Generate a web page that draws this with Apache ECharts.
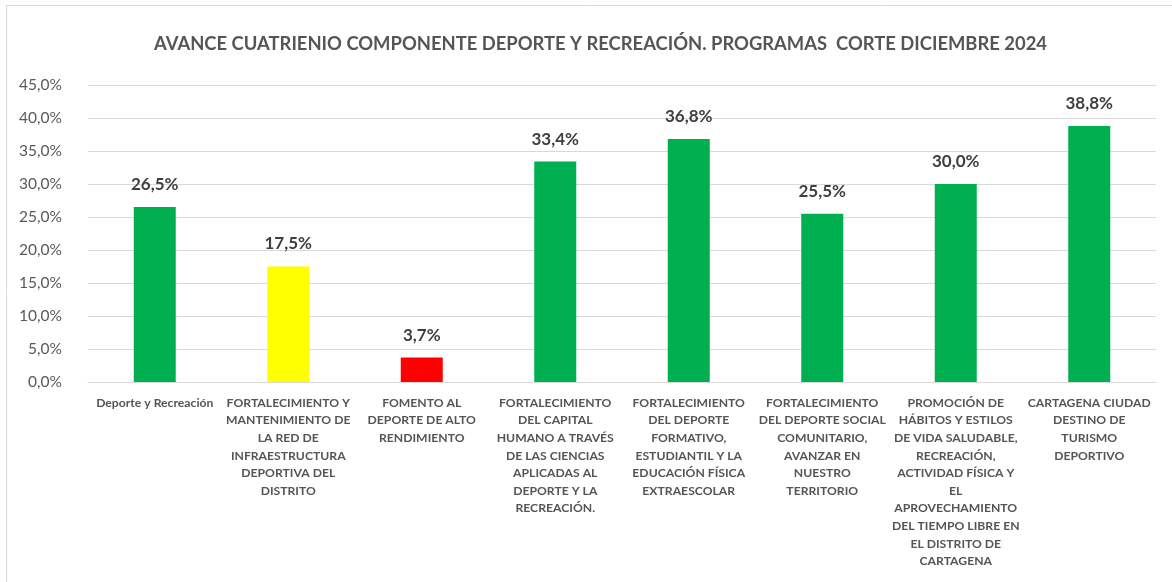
<!DOCTYPE html>
<html>
<head>
<meta charset="utf-8">
<script src="https://cdn.jsdelivr.net/npm/echarts@6/dist/echarts.min.js"></script>
<style>
  html, body { margin: 0; padding: 0; background: #fff; }
  #chart { width: 1172px; height: 582px; }
</style>
</head>
<body>
<div id="chart"></div>
<script>
// categorias (programas), con saltos de linea como en el original
var programas = [
    'Deporte y Recreación',
    'FORTALECIMIENTO Y\nMANTENIMIENTO DE\nLA RED DE\nINFRAESTRUCTURA\nDEPORTIVA DEL\nDISTRITO',
    'FOMENTO AL\nDEPORTE DE ALTO\nRENDIMIENTO',
    'FORTALECIMIENTO\nDEL CAPITAL\nHUMANO A TRAVÉS\nDE LAS CIENCIAS\nAPLICADAS AL\nDEPORTE Y LA\nRECREACIÓN.',
    'FORTALECIMIENTO\nDEL DEPORTE\nFORMATIVO,\nESTUDIANTIL Y LA\nEDUCACIÓN FÍSICA\nEXTRAESCOLAR',
    'FORTALECIMIENTO\nDEL DEPORTE SOCIAL\nCOMUNITARIO,\nAVANZAR EN\nNUESTRO\nTERRITORIO',
    'PROMOCIÓN DE\nHÁBITOS Y ESTILOS\nDE VIDA SALUDABLE,\nRECREACIÓN,\nACTIVIDAD FÍSICA Y\nEL\nAPROVECHAMIENTO\nDEL TIEMPO LIBRE EN\nEL DISTRITO DE\nCARTAGENA',
    'CARTAGENA CIUDAD\nDESTINO DE\nTURISMO\nDEPORTIVO'
];

// avance en %
var avance = [26.5, 17.5, 3.7, 33.4, 36.8, 25.5, 30.0, 38.8];

var barColors = ['#00B050', '#FFFF00', '#FF0000', '#00B050', '#00B050', '#00B050', '#00B050', '#00B050'];

function pct(v) {
    return v.toFixed(1).replace('.', ',') + '%';
}

var chart = echarts.init(document.getElementById('chart'));

var option = {
    backgroundColor: '#fff',
    animation: false,
    textStyle: { fontFamily: 'Lato' },
    graphic: [{
        type: 'rect',
        shape: { x: 6.5, y: 5.5, width: 1180, height: 600 },
        style: { fill: 'none', stroke: '#d9d9d9', lineWidth: 1 },
        silent: true
    }],
    title: {
        text: 'AVANCE CUATRIENIO COMPONENTE DEPORTE Y RECREACIÓN. PROGRAMAS  CORTE DICIEMBRE 2024',
        left: 149,
        top: 30,
        textStyle: { fontFamily: 'Lato', fontWeight: 'bold', fontSize: 18.4, color: '#555' }
    },
    grid: { left: 88, right: 16, top: 85, bottom: 200, containLabel: false },
    xAxis: {
        type: 'category',
        data: programas,
        axisLine: { lineStyle: { color: '#d9d9d9' } },
        axisTick: { show: false },
        axisLabel: {
            interval: 0,
            margin: 12,
            fontSize: 12.2,
            fontWeight: 'bold',
            color: '#555',
            lineHeight: 17.6,
            align: 'center'
        }
    },
    yAxis: {
        type: 'value',
        min: 0,
        max: 45,
        interval: 5,
        axisLine: { show: false },
        axisTick: { show: false },
        splitLine: { lineStyle: { color: '#d9d9d9' } },
        axisLabel: {
            formatter: function (v) { return pct(v); },
            fontSize: 15.5,
            color: '#595959',
            margin: 26
        }
    },
    series: [{
        type: 'bar',
        barWidth: 42,
        data: avance.map(function (v, i) {
            return { value: v, itemStyle: { color: barColors[i] } };
        }),
        label: {
            show: true,
            position: 'top',
            distance: 14,
            formatter: function (p) { return pct(p.value); },
            fontSize: 17,
            fontWeight: 'bold',
            color: '#3f3f3f'
        }
    }]
};

chart.setOption(option);
</script>
</body>
</html>
